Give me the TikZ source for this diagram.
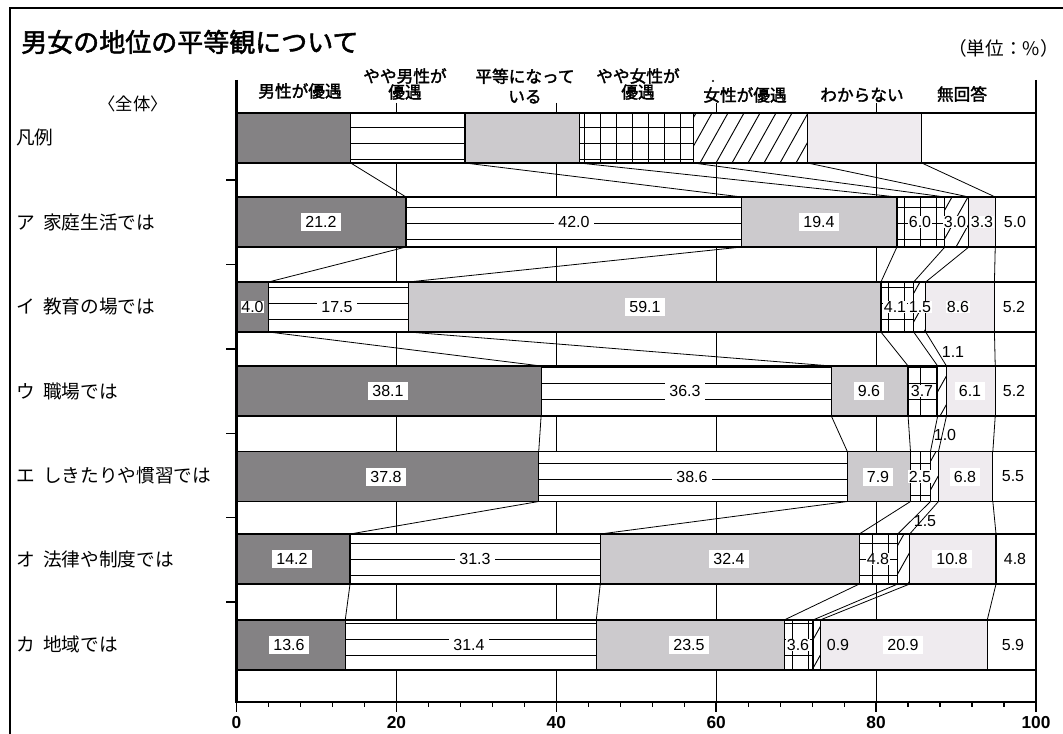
\documentclass[tikz,border=0pt]{standalone}
\usepackage{fontspec}
\setmainfont{Liberation Sans}
\newfontfamily\jp{Noto Sans CJK JP}[AutoFakeBold=2]
\definecolor{cdark}{RGB}{132,130,132}
\definecolor{cgray}{RGB}{204,202,205}
\definecolor{clav}{RGB}{239,235,239}
\tikzset{
  bord/.style={line width=0.9pt, black},
  pat/.style={line width=0.7pt, black},
  conn/.style={line width=0.6pt, black},
  gridln/.style={line width=0.9pt, black},
  lab/.style={fill=white, inner xsep=3pt, inner ysep=2.5pt, font=\fontsize{12}{13}\selectfont},
  labs/.style={fill=white, inner sep=0.6pt, font=\fontsize{12}{13}\selectfont},
  labn/.style={inner sep=0.5pt, font=\fontsize{12}{13}\selectfont},
  rowlab/.style={anchor=west, font=\jp\fontsize{14}{16}\selectfont, inner sep=0pt},
  head/.style={align=center, font=\jp\bfseries\fontsize{12.5}{12}\selectfont, inner sep=0pt},
  axlab/.style={font=\bfseries\fontsize{13}{14}\selectfont, inner sep=0pt},
}
\newcommand\drawbar[8]{%
  \edef\bT{#2}\edef\bB{\fpeval{#2+50}}%
  \edef\xA{\fpeval{round(236.5+7.995*(#3),2)}}%
  \edef\xB{\fpeval{round(236.5+7.995*(#4),2)}}%
  \edef\xC{\fpeval{round(236.5+7.995*(#5),2)}}%
  \edef\xD{\fpeval{round(236.5+7.995*(#6),2)}}%
  \edef\xE{\fpeval{round(236.5+7.995*(#7),2)}}%
  \edef\xF{\fpeval{round(236.5+7.995*(#8),2)}}%
  \fill[white] (236.5,\bT) rectangle (1036,\bB);
  \fill[cdark] (236.5,\bT) rectangle (\xA,\bB);
  \fill[cgray] (\xB,\bT) rectangle (\xC,\bB);
  \fill[clav] (\xE,\bT) rectangle (\xF,\bB);
  \begin{scope}
    \clip (\xA,\bT) rectangle (\xB,\bB);
    \foreach \yy in {15.5,31.5,...,719.5} \draw[pat] (\xA,\yy) -- (\xB,\yy);
  \end{scope}
  \begin{scope}
    \clip (\xC,\bT) rectangle (\xD,\bB);
    \foreach \yy in {15.5,31.5,...,719.5} \draw[pat] (\xC,\yy) -- (\xD,\yy);
    \foreach \xx in {8,24,...,1048} \draw[pat] (\xx,\bT) -- (\xx,\bB);
  \end{scope}
  \begin{scope}
    \clip (\xD,\bT) rectangle (\xE,\bB);
    \foreach \cc in {232,248,...,1096} \draw[pat] (\cc,\bT) -- ++(-28,50);
  \end{scope}
  \draw[bord] (236.5,\bT) rectangle (1036,\bB);
  \foreach \xx in {\xA,\xB,\xC,\xD,\xE,\xF} \draw[bord] (\xx,\bT) -- (\xx,\bB);
  \coordinate (#1-t-1) at (\xA,\bT); \coordinate (#1-b-1) at (\xA,\bB);
  \coordinate (#1-t-2) at (\xB,\bT); \coordinate (#1-b-2) at (\xB,\bB);
  \coordinate (#1-t-3) at (\xC,\bT); \coordinate (#1-b-3) at (\xC,\bB);
  \coordinate (#1-t-4) at (\xD,\bT); \coordinate (#1-b-4) at (\xD,\bB);
  \coordinate (#1-t-5) at (\xE,\bT); \coordinate (#1-b-5) at (\xE,\bB);
  \coordinate (#1-t-6) at (\xF,\bT); \coordinate (#1-b-6) at (\xF,\bB);
}
\begin{document}
\begin{tikzpicture}[x=0.75pt,y=-0.75pt]
\useasboundingbox (0,0) rectangle (1063,734);
% frame
\draw[line width=1.5pt] (10,734) -- (10,8) -- (1063,8);
% title
\node[anchor=west, inner sep=0pt, font=\jp\bfseries\fontsize{19.5}{20}\selectfont] (title) at (21,42) {男女の地位の平等観について};
\node[anchor=east, inner sep=0pt, font=\jp\fontsize{14}{15}\selectfont] (unit) at (1059,48) {（単位：\%）};
% headers
\node[head] (h1) at (300,91) {男性が優遇};
\node[head] (h2) at (405,84) {やや男性が\\優遇};
\node[head] (h3) at (525,86) {平等になって\\[3pt]いる};
\node[head] (h4) at (638,84) {やや女性が\\優遇};
\node[head] (h5) at (745,95) {女性が優遇};
\node[head] (h6) at (862,95) {わからない};
\node[head] (h7) at (962,94) {無回答};
\fill (713,81) circle[radius=0.8pt];
% row labels
\node[inner sep=0pt, font=\jp\fontsize{13}{14}\selectfont] (whole) at (133,104) {〈全体〉};
\node[rowlab] (r0) at (16,137) {凡例};
\node[rowlab] (r1) at (16,222) {ア\hspace{0.45em}家庭生活では};
\node[rowlab] (r2) at (16,306) {イ\hspace{0.45em}教育の場では};
\node[rowlab] (r3) at (16,391) {ウ\hspace{0.45em}職場では};
\node[rowlab] (r4) at (16,475) {エ\hspace{0.45em}しきたりや慣習では};
\node[rowlab] (r5) at (16,559) {オ\hspace{0.45em}法律や制度では};
\node[rowlab] (r6) at (16,644) {カ\hspace{0.45em}地域では};
% grid lines
\foreach \v in {20,40,60,80} \draw[gridln] ({236.5+7.995*\v},103) -- ({236.5+7.995*\v},702);
% bars
\drawbar{L}{113}{14.2857}{28.5714}{42.8571}{57.1429}{71.4286}{85.7143}
\drawbar{A}{197}{21.2}{63.2}{82.6}{88.6}{91.6}{94.9}
\drawbar{B}{282}{4.0}{21.5}{80.6}{84.7}{86.2}{94.8}
\drawbar{C}{366}{38.1}{74.4}{84.0}{87.7}{88.8}{94.9}
\drawbar{D}{451.5}{37.8}{76.4}{84.3}{86.8}{87.8}{94.6}
\drawbar{E}{534}{14.2}{45.5}{77.9}{82.7}{84.2}{95.0}
\drawbar{F}{620}{13.6}{45.0}{68.5}{72.1}{73.0}{93.9}
% connectors
\foreach \p/\q in {L/A,A/B,B/C,C/D,D/E,E/F}
  \foreach \i in {1,...,6} \draw[conn] (\p-b-\i) -- (\q-t-\i);
% axes
\draw[line width=2pt] (236.5,80) -- (236.5,702);
\draw[line width=1pt] (1036,80) -- (1036,702);
\draw[line width=2pt] (235,702) -- (1037,702);
\foreach \v in {0,4,...,100} \draw[line width=0.9pt] ({236.5+7.995*\v},702) -- ++(0,5);
\foreach \v in {0,20,...,100} \draw[line width=1.2pt] ({236.5+7.995*\v},702) -- ++(0,10);
\foreach \yy in {180,264.5,349,433.75,517.75,602} \draw[line width=0.9pt] (226,\yy) -- (236.5,\yy);
\node[axlab] (a0) at (236.5,723) {0};
\node[axlab] (a20) at (396.4,723) {20};
\node[axlab] (a40) at (556.3,723) {40};
\node[axlab] (a60) at (716.2,723) {60};
\node[axlab] (a80) at (876.1,723) {80};
\node[axlab] (a100) at (1036,723) {100};
% value labels
\node[lab] (vA1) at (321,222) {21.2};
\node[lab] (vA2) at (574,222) {42.0};
\node[lab] (vA3) at (819,222) {19.4};
\node[labs] (vA4) at (920,222) {6.0};
\node[labs] (vA5) at (955,222) {3.0};
\node[labs] (vA6) at (982,222) {3.3};
\node[labs] (vA7) at (1015,222) {5.0};
\node[labs] (vB1) at (252.5,307) {4.0};
\node[lab] (vB2) at (337,307) {17.5};
\node[lab] (vB3) at (645,307) {59.1};
\node[labs] (vB4) at (895,307) {4.1};
\node[labs] (vB5) at (920,307) {1.5};
\node[labs] (vB6) at (958,307) {8.6};
\node[labs] (vB7) at (1014,307) {5.2};
\node[lab] (vC1) at (388,391) {38.1};
\node[lab] (vC2) at (685,391) {36.3};
\node[lab] (vC3) at (869,391) {9.6};
\node[labs] (vC4) at (922,391) {3.7};
\node[labn] (vC5) at (953,352) {1.1};
\node[lab] (vC6) at (970,391) {6.1};
\node[labs] (vC7) at (1014,391) {5.2};
\node[lab] (vD1) at (386,476.5) {37.8};
\node[lab] (vD2) at (692,476.5) {38.6};
\node[lab] (vD3) at (878,476.5) {7.9};
\node[labs] (vD4) at (920,476.5) {2.5};
\node[labn] (vD5) at (945,435) {1.0};
\node[lab] (vD6) at (965,476.5) {6.8};
\node[labs] (vD7) at (1013,476.5) {5.5};
\node[lab] (vE1) at (292,559) {14.2};
\node[lab] (vE2) at (475,559) {31.3};
\node[lab] (vE3) at (729,559) {32.4};
\node[labs] (vE4) at (878,559) {4.8};
\node[labn] (vE5) at (925,521) {1.5};
\node[lab] (vE6) at (952,559) {10.8};
\node[labs] (vE7) at (1015,559) {4.8};
\node[lab] (vF1) at (289,645) {13.6};
\node[lab] (vF2) at (469,645) {31.4};
\node[lab] (vF3) at (689,645) {23.5};
\node[labs] (vF4) at (798,645) {3.6};
\node[labn] (vF5) at (838,645) {0.9};
\node[lab] (vF6) at (903,645) {20.9};
\node[labs] (vF7) at (1013,645) {5.9};
\end{tikzpicture}
\end{document}
